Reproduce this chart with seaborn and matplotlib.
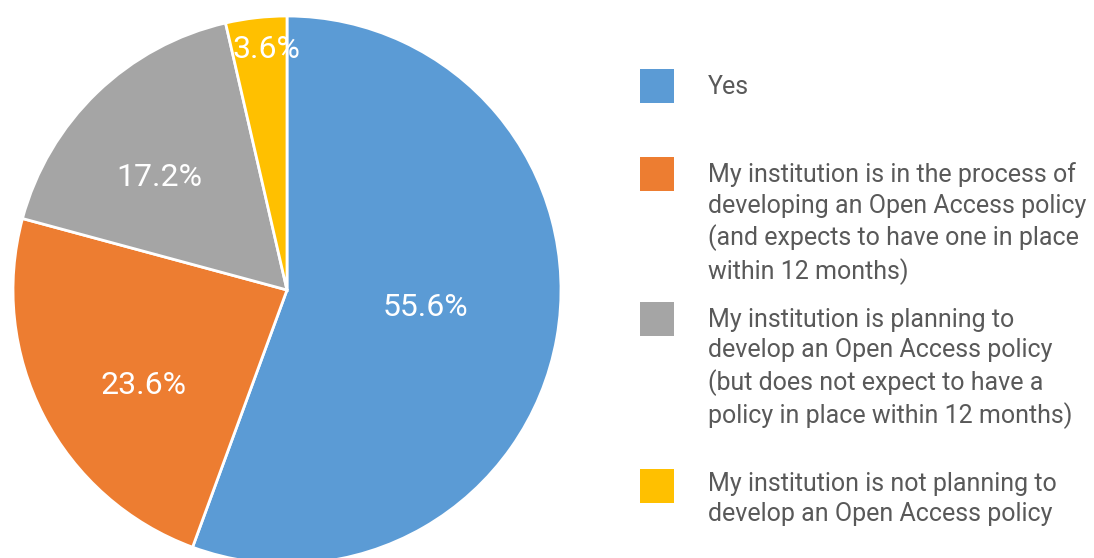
import matplotlib
matplotlib.use("Agg")
import matplotlib.pyplot as plt
import seaborn as sns
import numpy as np
from matplotlib.patches import Rectangle

sns.set_theme(style="white")
plt.rcParams['font.family'] = ['Roboto', 'DejaVu Sans']

categories = [
    "Yes",
    "My institution is in the process of\ndeveloping an Open Access policy\n(and expects to have one in place\nwithin 12 months)",
    "My institution is planning to\ndevelop an Open Access policy\n(but does not expect to have a\npolicy in place within 12 months)",
    "My institution is not planning to\ndevelop an Open Access policy",
]
values = [55.6, 23.6, 17.2, 3.6]
colors = ["#5B9BD5", "#ED7D31", "#A5A5A5", "#FFC000"]
label_dist = [0.51, 0.63, 0.62, 0.88]
label_shift = [2.7, 6.3, 4.7, -1.5]

W, H = 1094, 558
fig = plt.figure(figsize=(W / 100, H / 100), dpi=100)
ax = fig.add_axes([0, 0, 1, 1])
cx, cy, R = 287, H - 290, 274

wedges, _ = ax.pie(values, colors=colors, startangle=90, counterclock=False,
                   center=(cx, cy), radius=R,
                   wedgeprops=dict(edgecolor="white", linewidth=2))
for w, v, d, s in zip(wedges, values, label_dist, label_shift):
    th = np.deg2rad((w.theta1 + w.theta2) / 2 + s)
    ax.text(cx + d * R * np.cos(th), cy + d * R * np.sin(th), f"{v:.1f}%",
            ha="center", va="center", color="white", fontsize=23)

ax.set_xlim(0, W)
ax.set_ylim(0, H)
ax.set_aspect("equal")
ax.axis("off")

# legend
sq = 34
sq_x = 640
txt_x = 708
fs = 18
em = fs * 100 / 72
sq_center = [86, 174, 319, 486]
baseline = [94, 181, 326, 490]
for lab, col, yc, yb in zip(categories, colors, sq_center, baseline):
    ax.add_patch(Rectangle((sq_x, H - yc - sq / 2), sq, sq, facecolor=col, edgecolor="none"))
    ax.text(txt_x, H - (yb - 0.74 * em), lab, ha="left", va="top", color="#595959",
            fontsize=fs, linespacing=1.33)

fig.savefig("out.png", dpi=100)
